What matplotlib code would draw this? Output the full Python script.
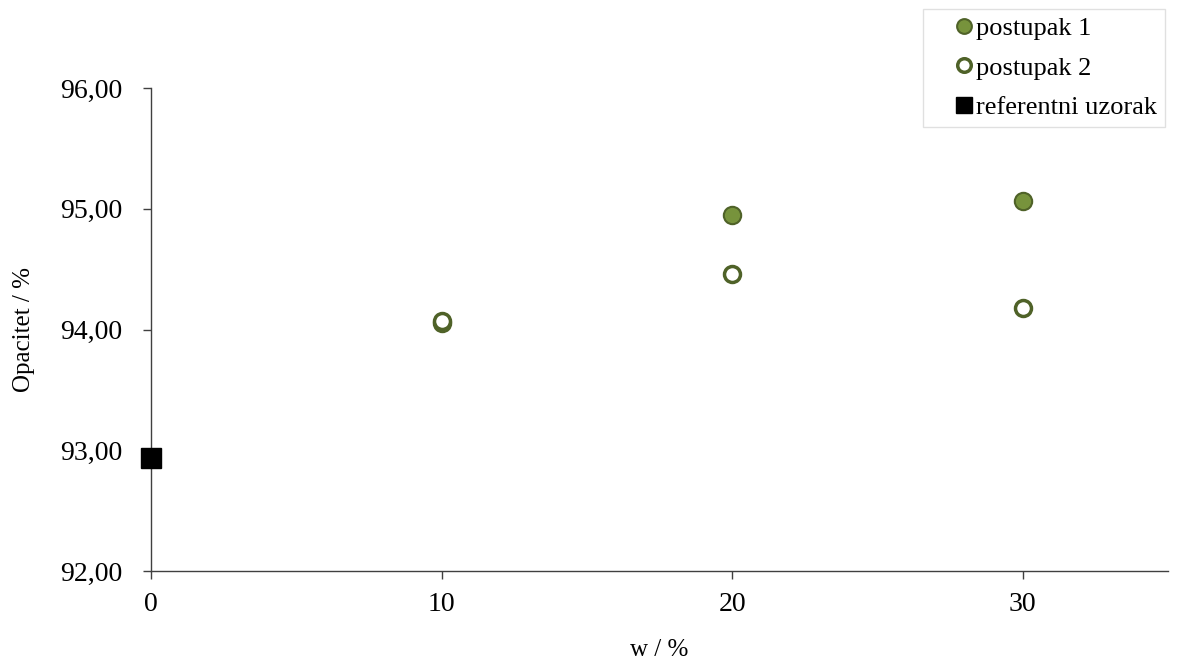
import matplotlib.pyplot as plt
from matplotlib.ticker import FuncFormatter

plt.rcParams['font.family'] = ['Liberation Serif', 'DejaVu Serif']

# podaci
w_postupak = [10, 20, 30]
opacitet_1 = [94.05, 94.95, 95.06]
opacitet_2 = [94.07, 94.46, 94.18]
w_ref = [0]
opacitet_ref = [92.94]

fig = plt.figure(figsize=(11.96, 6.64), dpi=100)
ax = fig.add_axes([0.1263, 0.14, 0.8503, 0.7275])

ax.plot(w_postupak, opacitet_1, 'o', ms=12.5, mfc='#77933C', mec='#4F6228', mew=1.5,
        label='postupak 1', zorder=3)
ax.plot(w_postupak, opacitet_2, 'o', ms=11.5, mfc='white', mec='#4F6228', mew=2.5,
        label='postupak 2', zorder=3)
ax.plot(w_ref, opacitet_ref, 's', ms=14, mfc='black', mec='black',
        label='referentni uzorak', zorder=4, clip_on=False)

ax.set_xlim(0, 35)
ax.set_ylim(92, 96)
ax.set_xticks([0, 10, 20, 30])
ax.set_yticks([92, 93, 94, 95, 96])
ax.yaxis.set_major_formatter(FuncFormatter(lambda v, p: f'{v:.2f}'.replace('.', ',')))

for s in ['top', 'right']:
    ax.spines[s].set_visible(False)
for s in ['left', 'bottom']:
    ax.spines[s].set_color('#404040')
    ax.spines[s].set_linewidth(1)
ax.tick_params(direction='out', length=6, width=1, color='#404040', labelsize=20)
ax.tick_params(axis='y', pad=15)
ax.tick_params(axis='x', pad=9)

ax.set_xlabel('w / %', fontsize=18, labelpad=16)
ax.set_ylabel('Opacitet / %', fontsize=18, labelpad=18)

# legenda gore desno, okvir ide do ruba slike
leg = fig.legend(loc='upper left', bbox_to_anchor=(923 / 1196, 1 - 9 / 664), fontsize=19,
                 handletextpad=-0.8, handlelength=2.5, borderpad=0.3, labelspacing=0.6,
                 markerscale=0.85, fancybox=False, edgecolor='#d9d9d9', borderaxespad=0.0)
leg.get_frame().set_linewidth(1)

fig.savefig('out.png', dpi=100)
